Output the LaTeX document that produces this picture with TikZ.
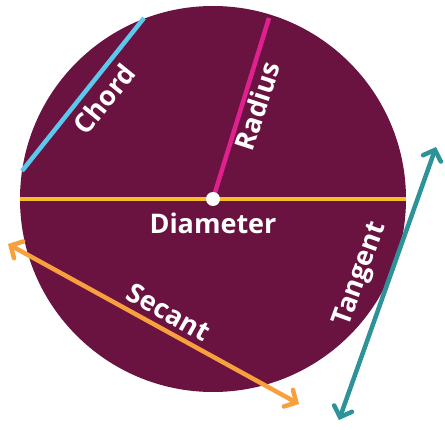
\documentclass[tikz,border=0pt]{standalone}
\usepackage{fontspec}
\setmainfont{Open Sans}
\usetikzlibrary{arrows.meta}
\definecolor{discc}{HTML}{6A1340}
\definecolor{chordc}{HTML}{5CC8EE}
\definecolor{radiusc}{HTML}{E0208F}
\definecolor{diamc}{HTML}{F5BE2A}
\definecolor{secc}{HTML}{F8A03E}
\definecolor{tanc}{HTML}{2E9398}
\tikzset{
  seg/.style={line width=4.5pt},
  lbl/.style={text=white, font=\fontsize{27}{30}\selectfont\bfseries, inner sep=0pt},
  barb/.style={{Straight Barb[length=9pt,width=19pt,line cap=round]}-{Straight Barb[length=9pt,width=19pt,line cap=round]}}
}
\begin{document}
\begin{tikzpicture}[x=1pt,y=-1pt]
\useasboundingbox (0,0) rectangle (445,430);
\coordinate (O) at (213,199);
\fill[discc] (O) circle[radius=193pt];
\coordinate (c1) at (22,171);
\coordinate (c2) at (144,18);
\coordinate (r2) at (269,18);
\coordinate (d1) at (20,199);
\coordinate (d2) at (406,199);
\coordinate (s1) at (8,244);
\coordinate (s2) at (299,404);
\coordinate (t1) at (339,420);
\coordinate (t2) at (436,147);
\draw[seg, chordc] (c1) -- (c2);
\draw[seg, diamc] (d1) -- (d2);
\draw[seg, radiusc] (O) -- (r2);
\fill[white] (O) circle[radius=7pt];
\draw[seg, secc, barb] (s1) -- (s2);
\draw[seg, tanc, barb] (t1) -- (t2);
\node[lbl, rotate=51] (chord) at (104,99) {Chord};
\node[lbl, rotate=72] (radius) at (257,106) {Radius};
\node[lbl] (diam) at (213,223) {Diameter};
\node[lbl, rotate=-29.5] (secant) at (169,312) {Secant};
\node[lbl, rotate=70] (tangent) at (361,274) {Tangent};
\end{tikzpicture}
\end{document}
